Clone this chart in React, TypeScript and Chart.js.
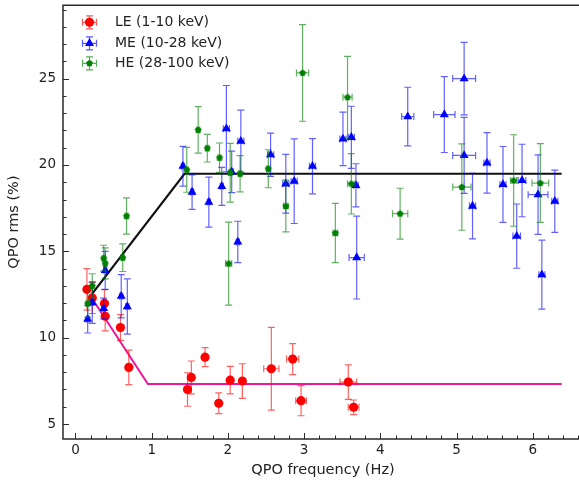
import React, { useEffect, useRef } from 'react';
import { Chart, registerables } from 'chart.js';
Chart.register(...registerables);

// ---------- data ----------
const leX = [0.15, 0.22, 0.38, 0.39, 0.59, 0.70, 1.47, 1.52, 1.70, 1.88, 2.03, 2.19, 2.57, 2.85, 2.96, 3.58, 3.65];
const leY = [12.8, 12.3, 11.98, 11.24, 10.59, 8.28, 7.0, 7.7, 8.87, 6.2, 7.54, 7.49, 8.2, 8.76, 6.35, 7.43, 5.97];
const leYErr = [1.2, 0.9, 0.8, 0.85, 0.75, 1.0, 0.97, 0.95, 0.55, 0.6, 0.8, 1.0, 2.4, 0.9, 0.87, 1.0, 0.42];
const leXErr = [0.02, 0.02, 0.02, 0.02, 0.02, 0.02, 0.02, 0.02, 0.02, 0.02, 0.02, 0.02, 0.1, 0.08, 0.07, 0.11, 0.07];

const meX = [0.16, 0.22, 0.37, 0.39, 0.60, 0.68, 1.41, 1.53, 1.75, 1.92, 1.98, 2.05, 2.13, 2.17, 2.56, 2.76, 2.87, 3.11, 3.51, 3.62, 3.68, 3.69, 4.36, 4.84, 5.10, 5.10, 5.21, 5.40, 5.61, 5.79, 5.86, 6.07, 6.12, 6.29];
const meY = [11.07, 12.03, 11.69, 13.9, 12.4, 11.8, 19.93, 18.43, 17.85, 18.76, 22.1, 19.6, 15.54, 21.38, 20.59, 18.91, 19.06, 19.93, 21.51, 21.6, 18.82, 14.64, 22.8, 22.92, 25.0, 20.55, 17.62, 20.12, 18.87, 15.88, 19.1, 18.28, 13.65, 17.9];
const meYErr = [0.8, 1.2, 0.6, 1.1, 1.25, 1.6, 1.15, 1.0, 1.45, 1.1, 2.5, 1.2, 1.2, 1.8, 1.25, 1.7, 2.45, 1.6, 1.55, 1.8, 1.25, 2.4, 1.7, 2.2, 2.1, 2.2, 1.9, 1.75, 2.2, 1.86, 2.1, 2.3, 2.0, 1.8];
const meXErr = [0.02, 0.02, 0.02, 0.02, 0.02, 0.02, 0.02, 0.02, 0.02, 0.02, 0.04, 0.02, 0.02, 0.04, 0.04, 0.04, 0.04, 0.04, 0.04, 0.04, 0.03, 0.1, 0.08, 0.14, 0.15, 0.15, 0.04, 0.04, 0.04, 0.05, 0.05, 0.13, 0.04, 0.04];

const heX = [0.16, 0.22, 0.37, 0.39, 0.62, 0.67, 1.46, 1.61, 1.73, 1.89, 2.01, 2.03, 2.16, 2.53, 2.76, 2.98, 3.41, 3.57, 3.62, 4.26, 5.07, 5.75, 6.10];
const heY = [11.98, 13.0, 14.6, 14.3, 14.63, 17.04, 19.72, 22.03, 20.97, 20.42, 14.29, 19.55, 19.49, 19.78, 17.62, 25.33, 16.06, 23.92, 18.91, 17.18, 18.72, 19.1, 18.95];
const heYErr = [0.8, 0.7, 0.75, 0.9, 0.8, 1.05, 1.3, 1.35, 0.8, 0.85, 2.4, 1.7, 1.05, 1.1, 1.5, 2.8, 1.72, 2.37, 1.75, 1.47, 2.5, 2.65, 2.28];
const heXErr = [0.02, 0.02, 0.02, 0.02, 0.02, 0.02, 0.02, 0.02, 0.02, 0.02, 0.04, 0.02, 0.02, 0.02, 0.03, 0.08, 0.03, 0.06, 0.05, 0.1, 0.12, 0.04, 0.11];

const blackX = [0.22, 1.43, 6.38];
const blackY = [12.55, 19.49, 19.49];
const magX = [0.19, 0.95, 6.38];
const magY = [12.46, 7.32, 7.32];

const xTicks = [0, 1, 2, 3, 4, 5, 6];
const yTicks = [5, 10, 15, 20, 25];
const seriesLabels = ['LE (1-10 keV)', 'ME (10-28 keV)', 'HE (28-100 keV)'];

const FONT = "'DejaVu Sans', sans-serif";
const TXT = '#222222';

function pentagonCanvas(r: number, color: string) {
  const c = document.createElement('canvas');
  const s = Math.ceil(2 * r + 2);
  c.width = s; c.height = s;
  const g = c.getContext('2d')!;
  drawPentagon(g, s / 2, s / 2, r, color);
  return c;
}
function drawPentagon(g: CanvasRenderingContext2D, x: number, y: number, r: number, color: string) {
  g.beginPath();
  for (let k = 0; k < 5; k++) {
    const a = -Math.PI / 2 + (k * 2 * Math.PI) / 5;
    const px = x + r * Math.cos(a), py = y + r * Math.sin(a);
    if (k === 0) g.moveTo(px, py); else g.lineTo(px, py);
  }
  g.closePath();
  g.fillStyle = color;
  g.fill();
}

const errPlugin = {
  id: 'errbars',
  beforeDatasetDraw(chart: any, args: any) {
    const ds: any = chart.data.datasets[args.index];
    if (!ds.yErr) return;
    const xs = chart.scales.x, ys = chart.scales.y;
    const ctx = chart.ctx as CanvasRenderingContext2D;
    const a = chart.chartArea;
    ctx.save();
    ctx.beginPath(); ctx.rect(a.left, a.top, a.right - a.left, a.bottom - a.top); ctx.clip();
    ctx.strokeStyle = ds.errColor; ctx.lineWidth = 1.2;
    const cap = 3.5;
    ds.data.forEach((p: any, i: number) => {
      const px = xs.getPixelForValue(p.x), py = ys.getPixelForValue(p.y);
      const y1 = ys.getPixelForValue(p.y + ds.yErr[i]), y0 = ys.getPixelForValue(p.y - ds.yErr[i]);
      const x1 = xs.getPixelForValue(p.x + ds.xErr[i]), x0 = xs.getPixelForValue(p.x - ds.xErr[i]);
      ctx.beginPath();
      ctx.moveTo(px, y0); ctx.lineTo(px, y1);
      ctx.moveTo(px - cap, y0); ctx.lineTo(px + cap, y0);
      ctx.moveTo(px - cap, y1); ctx.lineTo(px + cap, y1);
      ctx.moveTo(x0, py); ctx.lineTo(x1, py);
      ctx.moveTo(x0, py - cap); ctx.lineTo(x0, py + cap);
      ctx.moveTo(x1, py - cap); ctx.lineTo(x1, py + cap);
      ctx.stroke();
    });
    ctx.restore();
  },
};

const framePlugin = {
  id: 'frame',
  afterDraw(chart: any) {
    const ctx = chart.ctx as CanvasRenderingContext2D;
    const a = chart.chartArea;
    const xs = chart.scales.x, ys = chart.scales.y;
    ctx.save();
    ctx.strokeStyle = '#2a2a2a';
    ctx.lineWidth = 1.5;
    ctx.beginPath();
    ctx.rect(a.left, a.top, a.right - a.left, a.bottom - a.top);
    ctx.stroke();
    ctx.lineWidth = 1;
    ctx.beginPath();
    for (let v = 5; v <= 29; v += 1) {
      const y = Math.round(ys.getPixelForValue(v)) + 0.5;
      const len = v % 5 === 0 ? 6 : 3.5;
      ctx.moveTo(a.left, y); ctx.lineTo(a.left + len, y);
    }
    for (let k = 0; k <= 33; k++) {
      const v = k * 0.2;
      const x = Math.round(xs.getPixelForValue(v)) + 0.5;
      if (x > a.right) break;
      const len = k % 5 === 0 ? 6 : 3.5;
      ctx.moveTo(x, a.bottom); ctx.lineTo(x, a.bottom - len);
    }
    ctx.stroke();

    // legend
    const colors = ['#ff0000', '#0000ff', '#008000'];
    const errc = ['rgba(255,0,0,0.65)', 'rgba(0,0,255,0.65)', 'rgba(0,128,0,0.65)'];
    const rows = [22.3, 43.3, 63.3];
    ctx.font = `14px ${FONT}`;
    ctx.textBaseline = 'middle';
    ctx.textAlign = 'left';
    for (let i = 0; i < 3; i++) {
      const cx = 89.5, cy = rows[i];
      ctx.strokeStyle = errc[i]; ctx.lineWidth = 1.2;
      ctx.beginPath();
      ctx.moveTo(cx - 7, cy); ctx.lineTo(cx + 7, cy);
      ctx.moveTo(cx - 7, cy - 3.5); ctx.lineTo(cx - 7, cy + 3.5);
      ctx.moveTo(cx + 7, cy - 3.5); ctx.lineTo(cx + 7, cy + 3.5);
      ctx.moveTo(cx, cy - 6.5); ctx.lineTo(cx, cy + 6.5);
      ctx.moveTo(cx - 3.5, cy - 6.5); ctx.lineTo(cx + 3.5, cy - 6.5);
      ctx.moveTo(cx - 3.5, cy + 6.5); ctx.lineTo(cx + 3.5, cy + 6.5);
      ctx.stroke();
      ctx.fillStyle = colors[i];
      if (i === 0) {
        ctx.beginPath(); ctx.arc(cx, cy, 4.6, 0, Math.PI * 2); ctx.fill();
      } else if (i === 1) {
        const r = 5.2;
        ctx.beginPath();
        ctx.moveTo(cx, cy - r); ctx.lineTo(cx + 0.866 * r, cy + 0.5 * r); ctx.lineTo(cx - 0.866 * r, cy + 0.5 * r);
        ctx.closePath(); ctx.fill();
      } else {
        drawPentagon(ctx, cx, cy, 3.6, colors[i]);
      }
      ctx.fillStyle = TXT;
      ctx.fillText(seriesLabels[i], 115, cy);
    }
    ctx.restore();
  },
};

export default function App() {
  const ref = useRef<HTMLCanvasElement>(null);
  useEffect(() => {
    if (!ref.current) return;
    Chart.defaults.font.family = FONT;
    const toPts = (xs: number[], ys: number[]) => xs.map((x, i) => ({ x, y: ys[i] }));
    const chart = new Chart(ref.current, {
      type: 'scatter',
      data: {
        datasets: [
          {
            label: 'fit-LE', data: toPts(magX, magY), showLine: true, borderColor: '#f0169a', borderWidth: 2,
            pointRadius: 0, order: 10,
          } as any,
          {
            label: 'fit-ME', data: toPts(blackX, blackY), showLine: true, borderColor: '#111111', borderWidth: 2.2,
            pointRadius: 0, order: 9,
          } as any,
          {
            label: seriesLabels[0], data: toPts(leX, leY), pointStyle: 'circle', pointRadius: 4.6,
            backgroundColor: '#ff0000', borderWidth: 0, order: 3,
            xErr: leXErr, yErr: leYErr, errColor: 'rgba(255,0,0,0.62)',
          } as any,
          {
            label: seriesLabels[1], data: toPts(meX, meY), pointStyle: 'triangle', pointRadius: 5.2,
            backgroundColor: '#0000ff', borderWidth: 0, order: 2,
            xErr: meXErr, yErr: meYErr, errColor: 'rgba(0,0,255,0.62)',
          } as any,
          {
            label: seriesLabels[2], data: toPts(heX, heY), pointStyle: pentagonCanvas(3.6, '#008000'), pointRadius: 4,
            backgroundColor: '#008000', borderWidth: 0, order: 1,
            xErr: heXErr, yErr: heYErr, errColor: 'rgba(0,128,0,0.62)',
          } as any,
        ],
      },
      options: {
        animation: false,
        responsive: false,
        events: [],
        layout: { padding: { top: 4.5, right: 17, left: 0, bottom: 0 } },
        plugins: { legend: { display: false }, tooltip: { enabled: false } },
        scales: {
          x: {
            type: 'linear', min: -0.164, max: 6.66,
            grid: { display: false, drawTicks: false },
            border: { display: false },
            afterBuildTicks: (s: any) => { s.ticks = xTicks.map((v) => ({ value: v })); },
            afterFit: (s: any) => { s.height = 48; s.paddingLeft = 0; s.paddingRight = 0; },
            ticks: { color: TXT, font: { size: 13.5, family: FONT }, padding: 3, maxRotation: 0, callback: (v: any) => String(v) },
            title: { display: true, text: 'QPO frequency (Hz)', color: TXT, font: { size: 14.5, family: FONT }, padding: { top: 0, bottom: 8.5 } },
          },
          y: {
            type: 'linear', min: 4.133, max: 29.25,
            grid: { display: false, drawTicks: false },
            border: { display: false },
            afterBuildTicks: (s: any) => { s.ticks = yTicks.map((v) => ({ value: v })); },
            afterFit: (s: any) => { s.width = 63; s.paddingTop = 0; s.paddingBottom = 0; },
            ticks: { color: TXT, font: { size: 13.5, family: FONT }, padding: 7, callback: (v: any) => String(v) },
            title: { display: true, text: 'QPO rms (%)', color: TXT, font: { size: 14.5, family: FONT }, padding: { top: 6, bottom: 0 } },
          },
        },
      } as any,
      plugins: [errPlugin, framePlugin, {
        id: 'bg',
        beforeDraw(c: any) { const g = c.ctx; g.save(); g.fillStyle = '#ffffff'; g.fillRect(0, 0, c.width, c.height); g.restore(); },
      }],
    });
    return () => chart.destroy();
  }, []);
  return (
    <div style={{ position: 'absolute', left: 0, top: 0, width: 579, height: 487, overflow: 'hidden', background: '#fff' }}>
      <canvas ref={ref} width={600} height={487} style={{ width: 600, height: 487, display: 'block' }} />
    </div>
  );
}
